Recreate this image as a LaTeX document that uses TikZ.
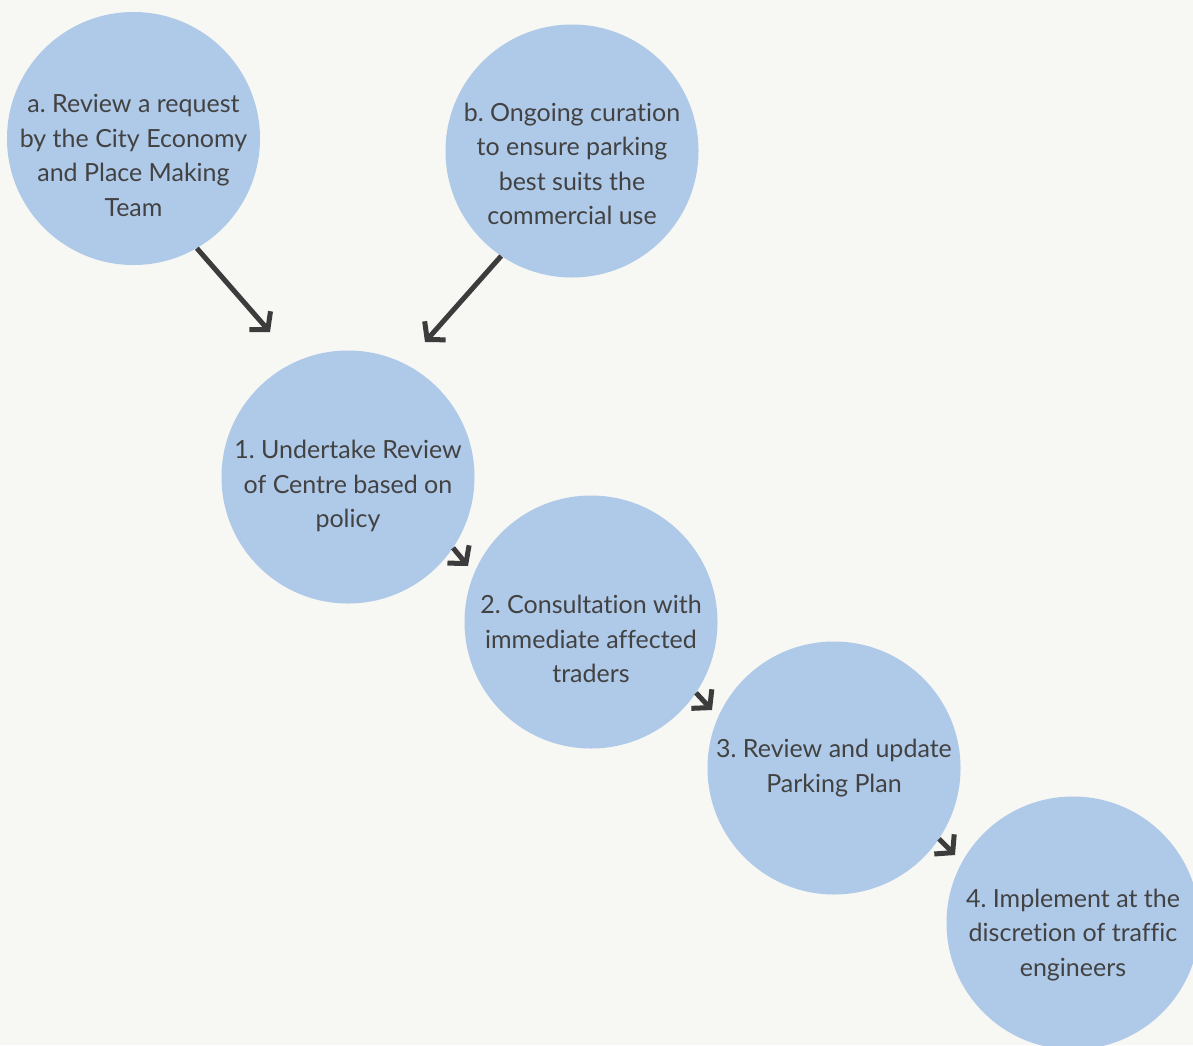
\documentclass[tikz,border=0pt]{standalone}
\usepackage{fontspec}
\setmainfont{Lato}[Ligatures={NoCommon}]
\frenchspacing
\usetikzlibrary{arrows.meta}
\definecolor{bgcol}{HTML}{F7F7F3}
\definecolor{bubble}{HTML}{AFC9E8}
\definecolor{ink}{HTML}{424242}
\definecolor{arrowcol}{HTML}{3C3C3C}
\tikzset{
  bubblenode/.style={circle, fill=bubble, minimum size=253pt, inner sep=0pt},
  caption/.style={align=center, text=ink, inner sep=0pt,
    font=\fontsize{25}{34.5}\selectfont},
  flow/.style={draw=arrowcol, line width=5pt,
    -{Straight Barb[length=12pt, width=28pt, line width=5pt]}, line join=miter}
}
\begin{document}
\begin{tikzpicture}[x=1pt, y=-1pt]
  \fill[bgcol] (0,0) rectangle (1193,1045);
  \useasboundingbox (0,0) rectangle (1193,1045);

  % circles
  \node[bubblenode] (a)  at (133.5,138.5) {};
  \node[bubblenode] (b)  at (572,151) {};
  \node[bubblenode] (s1) at (348,477) {};
  \node[bubblenode] (s2) at (591,622) {};
  \node[bubblenode] (s3) at (834,768) {};
  \node[bubblenode] (s4) at (1073,923) {};

  % captions
  \node[caption] (a-txt)  at ([yshift=-17pt]a)  {a. Review a request\\by the City Economy\\and Place Making\\Team};
  \node[caption] (b-txt)  at ([yshift=-13pt]b)  {b. Ongoing curation\\to ensure parking\\best suits the\\commercial use};
  \node[caption] (s1-txt) at ([yshift=-9pt]s1)  {1. Undertake Review\\of Centre based on\\policy};
  \node[caption] (s2-txt) at ([yshift=-17pt]s2) {2. Consultation with\\immediate affected\\traders};
  \node[caption] (s3-txt) at ([yshift=0pt]s3)   {3. Review and update\\Parking Plan};
  \node[caption] (s4-txt) at ([yshift=-12pt]s4) {4. Implement at the\\discretion of traffic\\engineers};

  % arrow tips
  \coordinate (ta) at (270,332);
  \coordinate (tb) at (425,342);
  \coordinate (t2) at (468,566);
  \coordinate (t3) at (712,710);
  \coordinate (t4) at (955,855);

  \draw[flow] (a.-60) -- (ta);
  \draw[flow] (b.-124) -- (tb);
  \draw[flow] (s1.-34) -- (t2);
  \draw[flow] (s2.-34) -- (t3);
  \draw[flow] (s3.-34) -- (t4);
\end{tikzpicture}
\end{document}
